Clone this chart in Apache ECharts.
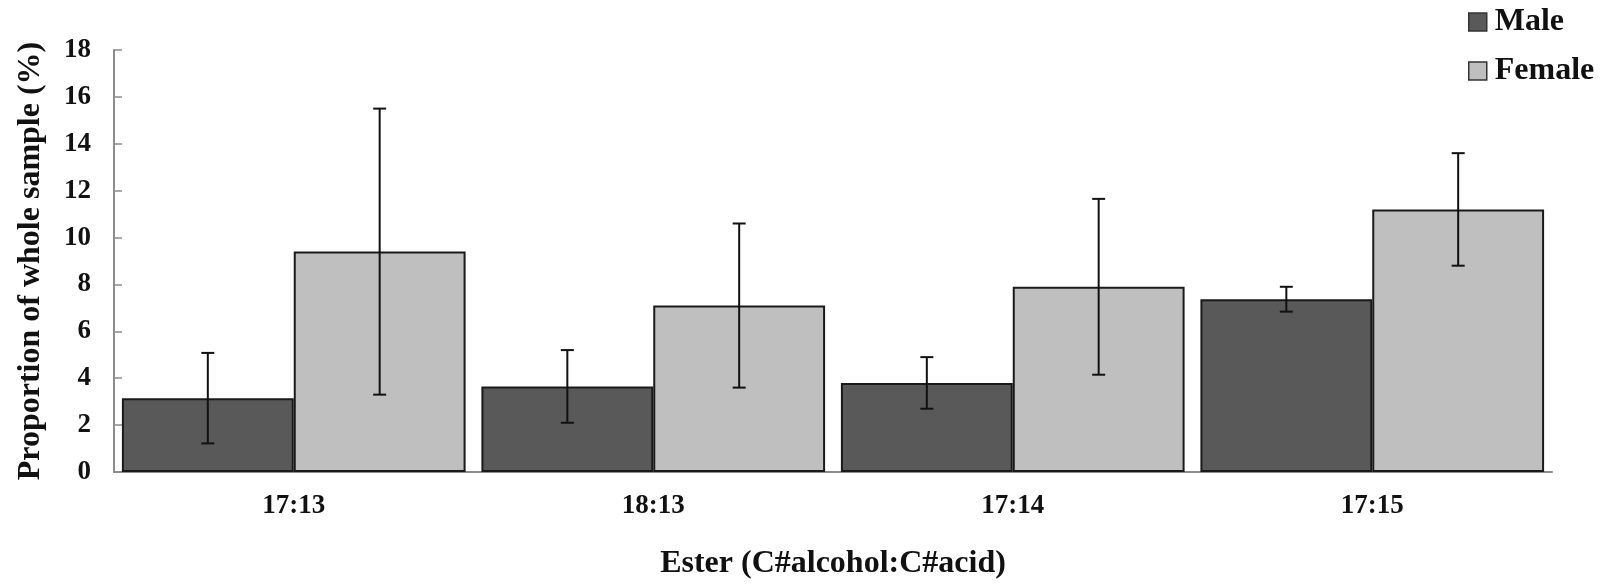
<!DOCTYPE html>
<html>
<head>
<meta charset="utf-8">
<title>Ester proportions by sex</title>
<script src="https://cdn.jsdelivr.net/npm/echarts@6/dist/echarts.min.js"></script>
<style>
  html, body { margin: 0; padding: 0; background: #ffffff; }
  #chart { width: 1615px; height: 585px; }
</style>
</head>
<body>
<div id="chart"></div>
<script>
// Ester categories (carbon count alcohol : carbon count acid)
var categories = ['17:13', '18:13', '17:14', '17:15'];

// Mean proportion of whole sample (%) and the error half-widths
var maleMean = [3.15, 3.65, 3.8, 7.37];
var maleErr = [1.93, 1.55, 1.1, 0.53];
var femaleMean = [9.4, 7.1, 7.9, 11.2];
var femaleErr = [6.1, 3.5, 3.75, 2.4];

var yTicks = { min: 0, max: 18, step: 2 };

var FONT = '"Liberation Serif", "Times New Roman", "DejaVu Serif", serif';
var BAR_FRACTION = 0.478; // each bar's share of its category band

function errorData(means, errs) {
  return means.map(function (m, i) { return [i, m - errs[i], m + errs[i]]; });
}

// Draws a vertical whisker with caps, shifted onto its bar within the band
function makeErrorRenderer(side) {
  return function (params, api) {
    var idx = api.value(0);
    var low = api.coord([idx, api.value(1)]);
    var high = api.coord([idx, api.value(2)]);
    var band = api.size([1, 0])[0];
    var x = low[0] + side * band * BAR_FRACTION / 2;
    var cap = 6.5;
    var style = { stroke: '#111111', lineWidth: 2, fill: null };
    return {
      type: 'group',
      children: [
        { type: 'line', shape: { x1: x, y1: high[1], x2: x, y2: low[1] }, style: style },
        { type: 'line', shape: { x1: x - cap, y1: high[1], x2: x + cap, y2: high[1] }, style: style },
        { type: 'line', shape: { x1: x - cap, y1: low[1], x2: x + cap, y2: low[1] }, style: style }
      ]
    };
  };
}

var chart = echarts.init(document.getElementById('chart'), null, { renderer: 'canvas' });

chart.setOption({
  backgroundColor: '#ffffff',
  animation: false,
  textStyle: { fontFamily: FONT },
  legend: {
    orient: 'vertical',
    left: 1468,
    top: 6,
    padding: 0,
    itemWidth: 18,
    itemHeight: 18,
    itemGap: 17,
    icon: 'rect',
    data: ['Male', 'Female'],
    itemStyle: { borderColor: '#333333', borderWidth: 1.5 },
    textStyle: { fontFamily: FONT, fontSize: 32, lineHeight: 32, fontWeight: 'bold', color: '#111111', padding: [0, 0, 0, 3] }
  },
  grid: { left: 114, right: 63, top: 50, bottom: 111, containLabel: false },
  xAxis: {
    type: 'category',
    data: categories,
    name: 'Ester (C#alcohol:C#acid)',
    nameLocation: 'middle',
    nameGap: 76,
    nameTextStyle: { fontFamily: FONT, fontSize: 32, fontWeight: 'bold', color: '#111111' },
    axisLine: { lineStyle: { color: '#8c8c8c', width: 2 } },
    axisTick: { inside: true, length: 8, lineStyle: { color: '#8c8c8c', width: 1.5 } },
    axisLabel: { fontFamily: FONT, fontSize: 27, fontWeight: 'bold', color: '#111111', margin: 21 },
    splitLine: { show: false }
  },
  yAxis: {
    type: 'value',
    min: yTicks.min,
    max: yTicks.max,
    interval: yTicks.step,
    name: 'Proportion of whole sample (%)',
    nameLocation: 'middle',
    nameGap: 67,
    nameTextStyle: { fontFamily: FONT, fontSize: 32, fontWeight: 'bold', color: '#111111' },
    axisLine: { show: true, lineStyle: { color: '#8c8c8c', width: 2 } },
    axisTick: { show: true, inside: true, length: 8, lineStyle: { color: '#8c8c8c', width: 1.5 } },
    axisLabel: { fontFamily: FONT, fontSize: 27, fontWeight: 'bold', color: '#111111', margin: 23 },
    splitLine: { show: false }
  },
  series: [
    {
      name: 'Male',
      type: 'bar',
      data: maleMean,
      barWidth: (BAR_FRACTION * 100) + '%',
      barGap: '0%',
      itemStyle: { color: '#595959', borderColor: '#1a1a1a', borderWidth: 2 }
    },
    {
      name: 'Female',
      type: 'bar',
      data: femaleMean,
      barWidth: (BAR_FRACTION * 100) + '%',
      barGap: '0%',
      itemStyle: { color: '#bfbfbf', borderColor: '#1a1a1a', borderWidth: 2 }
    },
    {
      name: 'Male error',
      type: 'custom',
      renderItem: makeErrorRenderer(-1),
      data: errorData(maleMean, maleErr),
      encode: { x: 0, y: [1, 2] },
      z: 10,
      silent: true
    },
    {
      name: 'Female error',
      type: 'custom',
      renderItem: makeErrorRenderer(1),
      data: errorData(femaleMean, femaleErr),
      encode: { x: 0, y: [1, 2] },
      z: 10,
      silent: true
    }
  ]
});
</script>
</body>
</html>
